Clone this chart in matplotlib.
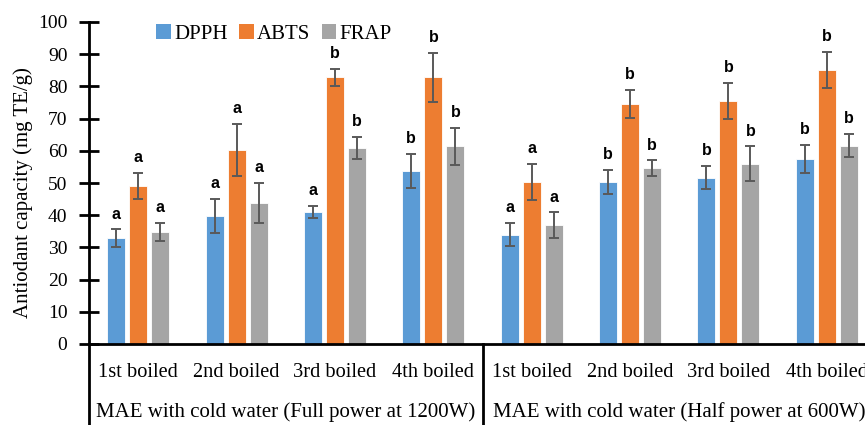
import matplotlib
matplotlib.use('Agg')
import matplotlib.pyplot as plt
import numpy as np
from matplotlib.patches import Patch
from matplotlib.lines import Line2D

boil_labels = ['1st boiled', '2nd boiled', '3rd boiled', '4th boiled',
               '1st boiled', '2nd boiled', '3rd boiled', '4th boiled']
condition_labels = ['MAE with cold water (Full power at 1200W)',
                    'MAE with cold water (Half power at 600W)']
series_names = ['DPPH', 'ABTS', 'FRAP']
dpph = [32.9, 39.8, 41.0, 53.8, 34.0, 50.4, 51.7, 57.5]
dpph_err = [2.7, 5.2, 1.9, 5.3, 3.7, 3.7, 3.7, 4.3]
abts = [49.1, 60.3, 82.8, 82.8, 50.4, 74.6, 75.5, 85.1]
abts_err = [4.0, 8.0, 2.6, 7.5, 5.6, 4.3, 5.5, 5.7]
frap = [34.9, 43.9, 60.9, 61.4, 36.9, 54.6, 56.0, 61.6]
frap_err = [2.8, 6.2, 3.3, 5.8, 4.0, 2.4, 5.4, 3.6]
dpph_sig = ['a', 'a', 'a', 'b', 'a', 'b', 'b', 'b']
abts_sig = ['a', 'a', 'b', 'b', 'a', 'b', 'b', 'b']
frap_sig = ['a', 'a', 'b', 'b', 'a', 'b', 'b', 'b']
yticks = [0, 10, 20, 30, 40, 50, 60, 70, 80, 90, 100]

colors = ['#5B9BD5', '#ED7D31', '#A5A5A5']
serif = 'Liberation Serif'

W, H = 865, 425
fig = plt.figure(figsize=(W / 100, H / 100), dpi=100)
ax_left, ax_right, ax_top, ax_bot = 89, 876, 22, 344
ax = fig.add_axes([ax_left / W, (H - ax_bot) / H, (ax_right - ax_left) / W, (ax_bot - ax_top) / H])

n = len(boil_labels)
centers = np.arange(n) + 0.5
offset = 0.224
bw = 0.183

data = [(dpph, dpph_err, dpph_sig), (abts, abts_err, abts_sig), (frap, frap_err, frap_sig)]
for k, (vals, errs, sigs) in enumerate(data):
    xs = centers + (k - 1) * offset
    ax.bar(xs, vals, width=bw, color=colors[k], edgecolor='white', linewidth=0.6, zorder=2)
    ax.errorbar(xs, vals, yerr=errs, fmt='none', ecolor='#595959', elinewidth=1.4,
                capsize=3.5, capthick=1.4, zorder=3)
    for x, v, e, s in zip(xs, vals, errs, sigs):
        ax.annotate(s, (x, v + e), xytext=(0, 11), textcoords='offset points',
                    ha='center', va='center', fontsize=11.5, fontweight='bold',
                    family='Liberation Sans', color='black')

ax.set_xlim(0, n)
ax.set_ylim(0, 100)
ax.set_yticks(yticks)
ax.set_yticklabels([str(t) for t in yticks], family=serif, fontsize=14)
ax.tick_params(axis='y', direction='inout', length=14, width=2, pad=8.5)
ax.set_xticks(centers)
ax.set_xticklabels(boil_labels, family=serif, fontsize=14.7)
ax.tick_params(axis='x', length=0, pad=13.5)

for sp in ['top', 'right']:
    ax.spines[sp].set_visible(False)
for sp in ['left', 'bottom']:
    ax.spines[sp].set_linewidth(2)

ax.set_ylabel('Antiodant capacity (mg TE/g)', family=serif, fontsize=15)
ax.yaxis.set_label_coords(-0.071, (ax_bot - 193) / (ax_bot - ax_top))

# group dividers below the axis
ybottom = -(H - ax_bot) / (ax_bot - ax_top)
for xd in [0, n / 2, n]:
    ax.add_line(Line2D([xd, xd], [0, ybottom], transform=ax.get_xaxis_transform(),
                       color='black', linewidth=2, clip_on=False))

for i, lab in enumerate(condition_labels):
    ax.text(n / 4 + i * n / 2, -67.7 / (ax_bot - ax_top), lab, transform=ax.get_xaxis_transform(),
            ha='center', va='center', family=serif, fontsize=15)

handles = [Patch(facecolor=c, edgecolor='none') for c in colors]
leg = fig.legend(handles, series_names, loc='center', bbox_to_anchor=(274 / W, 1 - 34 / H),
                 ncol=3, frameon=False, prop={'family': serif, 'size': 15},
                 handlelength=0.7, handleheight=0.7, handletextpad=0.15, columnspacing=0.55,
                 borderaxespad=0)

fig.savefig('out.png', dpi=100)
